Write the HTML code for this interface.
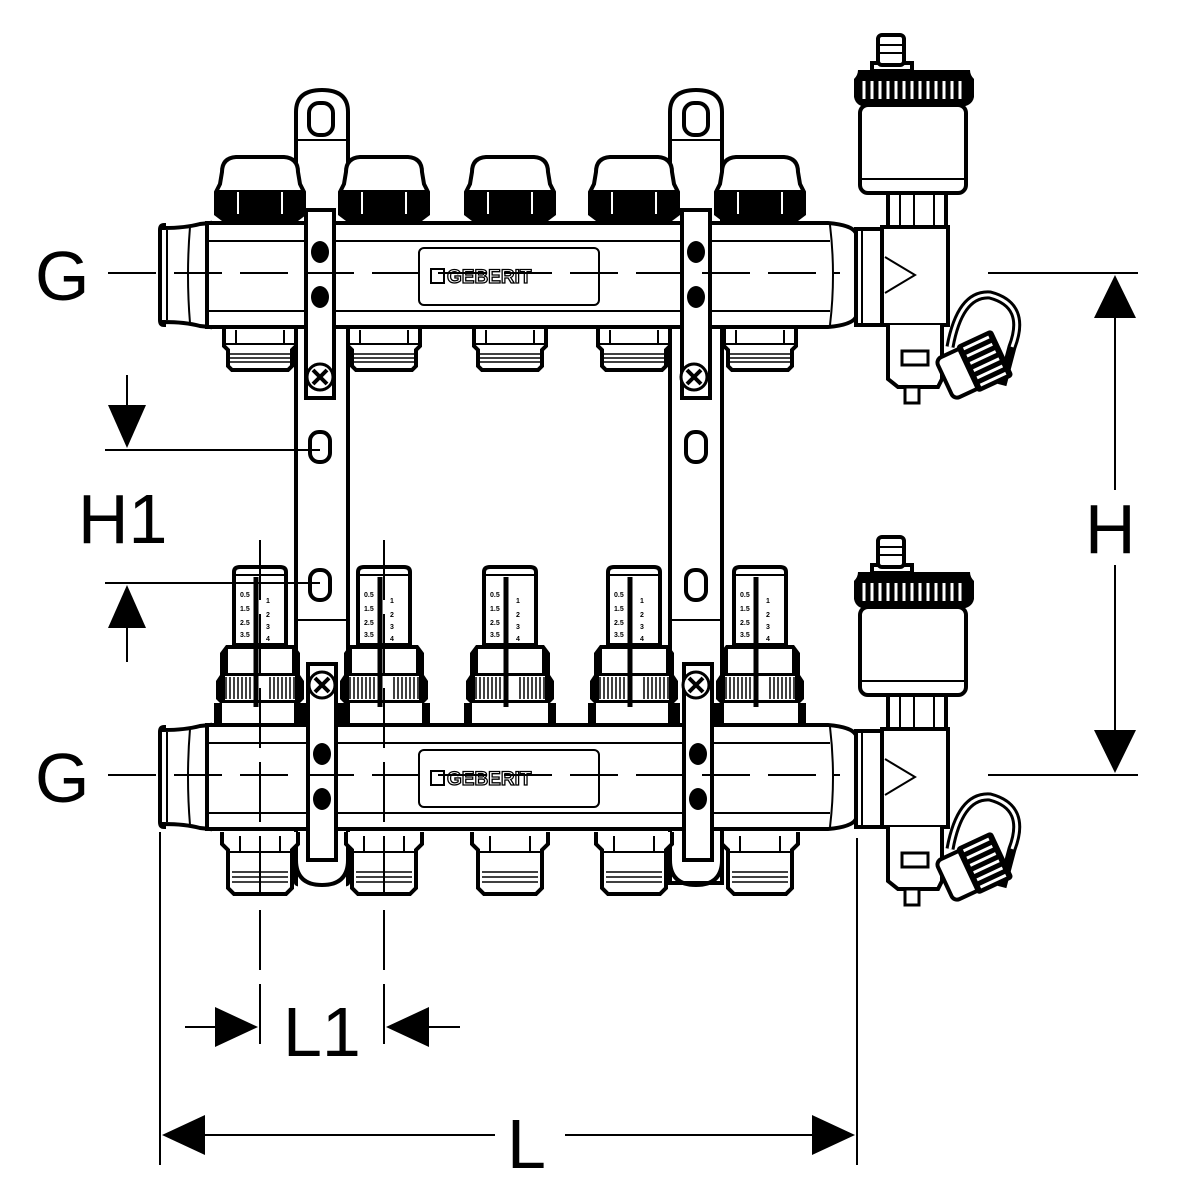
<!DOCTYPE html>
<html><head><meta charset="utf-8"><style>html,body{margin:0;padding:0;background:#fff}svg{display:block}</style></head>
<body>
<svg width="1200" height="1200" viewBox="0 0 1200 1200" xmlns="http://www.w3.org/2000/svg">
<defs>
  <g id="cap">
    <path d="M-38,-50 Q-38,-64 -24,-65 L24,-65 Q38,-64 38,-50 L40,-38 L44,-30 L44,-8 L36,-2 L-36,-2 L-44,-8 L-44,-30 L-40,-38 Z" fill="#fff" stroke="#000" stroke-width="4"/>
    <path d="M-44,-32 L44,-32 L44,-10 L36,-4 L-36,-4 L-44,-10 Z" fill="#000"/>
    <line x1="-22" y1="-30" x2="-22" y2="-8" stroke="#fff" stroke-width="2"/>
    <line x1="22" y1="-30" x2="22" y2="-8" stroke="#fff" stroke-width="2"/>
  </g>
  <g id="stub">
    <path d="M-36,2 L-36,20 L-32,24 L-32,40 L-28,44 L28,44 L32,40 L32,24 L36,20 L36,2" fill="#fff" stroke="#000" stroke-width="4"/>
    <line x1="-34" y1="18" x2="34" y2="18" stroke="#000" stroke-width="2"/>
    <line x1="-24" y1="4" x2="-24" y2="18" stroke="#000" stroke-width="2"/>
    <line x1="24" y1="4" x2="24" y2="18" stroke="#000" stroke-width="2"/>
    <line x1="-30" y1="28" x2="30" y2="28" stroke="#000" stroke-width="1.5"/>
    <line x1="-30" y1="32" x2="30" y2="32" stroke="#000" stroke-width="1.5"/>
    <line x1="-30" y1="36" x2="30" y2="36" stroke="#000" stroke-width="1.5"/>
  </g>
  <g id="stub2">
    <path d="M-38,2 L-38,14 L-32,20 L-32,58 L-26,64 L26,64 L32,58 L32,20 L38,14 L38,2" fill="#fff" stroke="#000" stroke-width="4"/>
    <line x1="-32" y1="22" x2="32" y2="22" stroke="#000" stroke-width="2"/>
    <line x1="-20" y1="6" x2="-20" y2="22" stroke="#000" stroke-width="2"/>
    <line x1="20" y1="6" x2="20" y2="22" stroke="#000" stroke-width="2"/>
    <line x1="-28" y1="42" x2="28" y2="42" stroke="#000" stroke-width="1.5"/>
    <line x1="-28" y1="47" x2="28" y2="47" stroke="#000" stroke-width="1.5"/>
    <line x1="-28" y1="52" x2="28" y2="52" stroke="#000" stroke-width="1.5"/>
  </g>
  <g id="meter">
    <path d="M-26,-155 Q-26,-160 -20,-160 L20,-160 Q26,-160 26,-155 L26,-82 L-26,-82 Z" fill="#fff" stroke="#000" stroke-width="4"/>
    <line x1="-24" y1="-152" x2="24" y2="-152" stroke="#000" stroke-width="2"/>
    <g font-family="Liberation Sans, sans-serif" font-size="7" font-weight="bold">
      <text x="-20" y="-130">0.5</text><text x="-20" y="-116">1.5</text><text x="-20" y="-102">2.5</text><text x="-20" y="-90">3.5</text>
      <text x="6" y="-124">1</text><text x="6" y="-110">2</text><text x="6" y="-98">3</text><text x="6" y="-86">4</text>
    </g>
    <path d="M-34,-82 L34,-82 L40,-74 L40,-52 L44,-46 L44,-28 L40,-24 L-40,-24 L-44,-28 L-44,-46 L-40,-52 L-40,-74 Z" fill="#000"/>
    <rect x="-32" y="-78" width="64" height="24" fill="#fff"/>
    <rect x="-36" y="-52" width="72" height="26" fill="#fff" stroke="#000" stroke-width="2"/>
    <path d="M-34,-50 v22 M-30,-50 v22 M-26,-50 v22 M-22,-50 v22 M-18,-50 v22 M-14,-50 v22 M-10,-50 v22 M10,-50 v22 M14,-50 v22 M18,-50 v22 M22,-50 v22 M26,-50 v22 M30,-50 v22 M34,-50 v22" stroke="#000" stroke-width="1.5"/>
    <path d="M-40,-24 L-40,0 M40,-24 L40,0 M-44,-24 L-44,0 L44,0 L44,-24" fill="none" stroke="#000" stroke-width="4"/>
    <line x1="-4" y1="-150" x2="-4" y2="-20" stroke="#000" stroke-width="5"/>
  </g>
  <g id="bar">
    <!-- left press end -->
    <path d="M160,-45 Q160,-50 164,-50 L164,-47 Q185,-47 200,-51 L210,-52 L210,52 L200,51 Q185,47 164,47 L164,50 Q160,50 160,45 Z" fill="#fff" stroke="#000" stroke-width="4"/>
    <line x1="167" y1="-45" x2="167" y2="45" stroke="#000" stroke-width="2"/>
    <path d="M190,-48 Q186,0 190,48" fill="none" stroke="#000" stroke-width="2"/>
    <!-- body -->
    <path d="M207,-52 L828,-52 Q852,-50 856,-42 L856,42 Q852,50 828,52 L207,52 Z" fill="#fff" stroke="#000" stroke-width="4"/>
    <line x1="207" y1="-34" x2="830" y2="-34" stroke="#000" stroke-width="2"/>
    <line x1="207" y1="36" x2="830" y2="36" stroke="#000" stroke-width="2"/>
    <path d="M830,-50 Q836,0 830,50" fill="none" stroke="#000" stroke-width="2"/>
    <rect x="419" y="-27" width="180" height="57" rx="5" fill="#fff" stroke="#000" stroke-width="2"/>
    <rect x="431" y="-6" width="13" height="14" fill="#fff" stroke="#000" stroke-width="2"/>
    <text x="447" y="8" font-family="Liberation Sans, sans-serif" font-weight="bold" font-size="19" fill="#fff" stroke="#000" stroke-width="1.3">GEBERIT</text>
    <!-- flange -->
    <rect x="856" y="-46" width="26" height="96" fill="#fff" stroke="#000" stroke-width="4"/>
    <line x1="862" y1="-44" x2="862" y2="48" stroke="#000" stroke-width="2"/>
    <!-- T body -->
    <rect x="882" y="-48" width="66" height="98" fill="#fff" stroke="#000" stroke-width="4"/>
    <path d="M885,-18 L915,0 L885,18" fill="none" stroke="#000" stroke-width="2"/>
    <!-- nut above -->
    <rect x="888" y="-82" width="58" height="34" fill="#fff" stroke="#000" stroke-width="4"/>
    <path d="M900,-80 v30 M914,-80 v30 M934,-80 v30" stroke="#000" stroke-width="2"/>
    <!-- drain below -->
    <path d="M888,50 L888,104 L898,112 L938,112 L942,104 L942,50" fill="#fff" stroke="#000" stroke-width="4"/>
    <rect x="902" y="76" width="26" height="14" fill="#fff" stroke="#000" stroke-width="3"/>
    <rect x="905" y="112" width="14" height="16" fill="#fff" stroke="#000" stroke-width="3"/>
    <!-- drain cap -->
    <path d="M950,72 Q960,18 990,20 Q1028,30 1012,72 L1002,110" fill="none" stroke="#000" stroke-width="9"/>
    <path d="M950,72 Q960,18 990,20 Q1028,30 1012,72" fill="none" stroke="#fff" stroke-width="3"/>
    <g transform="translate(972,92) rotate(-25)">
      <rect x="-30" y="-22" width="60" height="44" rx="6" fill="#fff" stroke="#000" stroke-width="4"/>
      <rect x="-6" y="-26" width="40" height="52" rx="4" fill="#000"/>
      <path d="M0,-20 h28 M0,-12 h28 M0,-4 h28 M0,4 h28 M0,12 h28 M0,20 h28" stroke="#fff" stroke-width="3"/>
    </g>
    <!-- air vent -->
    <rect x="860" y="-170" width="106" height="88" rx="8" fill="#fff" stroke="#000" stroke-width="4"/>
    <line x1="862" y1="-96" x2="964" y2="-96" stroke="#000" stroke-width="2"/>
    <path d="M858,-205 Q858,-200 854,-196 L854,-178 Q856,-168 868,-168 L958,-168 Q972,-168 974,-178 L974,-196 Q970,-200 970,-205 Z" fill="#000"/>
    <path d="M864,-194 v18 M872,-194 v18 M880,-194 v18 M888,-194 v18 M896,-194 v18 M904,-194 v18 M912,-194 v18 M920,-194 v18 M928,-194 v18 M936,-194 v18 M944,-194 v18 M952,-194 v18 M960,-194 v18" stroke="#fff" stroke-width="3"/>
    <rect x="872" y="-212" width="40" height="8" fill="#fff" stroke="#000" stroke-width="4"/>
    <rect x="878" y="-240" width="26" height="30" rx="4" fill="#fff" stroke="#000" stroke-width="4"/>
    <path d="M880,-230 h22 M880,-222 h22" stroke="#000" stroke-width="2"/>
  </g>
</defs>

<!-- brackets -->
<g fill="#fff" stroke="#000" stroke-width="4">
  <path d="M296,883 L296,112 Q296,90 322,90 Q348,90 348,112 L348,883 Q348,885 338,885 Q322,885 306,885 Q296,885 296,883" />
  <path d="M670,883 L670,112 Q670,90 696,90 Q722,90 722,112 L722,883 Z"/>
</g>
<rect x="298" y="880" width="48" height="8" fill="#fff"/>
<path d="M296,840 L296,860 Q296,885 322,885 Q348,885 348,860" fill="none" stroke="#000" stroke-width="4"/>
<path d="M670,840 L670,860 Q670,885 696,885 Q722,885 722,860" fill="none" stroke="#000" stroke-width="4"/>
<g stroke="#000" stroke-width="2">
  <line x1="298" y1="140" x2="346" y2="140"/><line x1="672" y1="140" x2="720" y2="140"/>
  <line x1="298" y1="620" x2="346" y2="620"/><line x1="672" y1="620" x2="720" y2="620"/>
</g>
<g fill="#fff" stroke="#000" stroke-width="4">
  <rect x="309" y="103" width="24" height="32" rx="10"/>
  <rect x="684" y="103" width="24" height="32" rx="10"/>
  <rect x="310" y="432" width="20" height="30" rx="9"/>
  <rect x="686" y="432" width="20" height="30" rx="9"/>
  <rect x="310" y="570" width="20" height="30" rx="9"/>
  <rect x="686" y="570" width="20" height="30" rx="9"/>
</g>

<!-- TOP manifold -->
<use href="#cap" x="260" y="222"/><use href="#cap" x="384" y="222"/><use href="#cap" x="510" y="222"/><use href="#cap" x="634" y="222"/><use href="#cap" x="760" y="222"/>
<use href="#stub" x="260" y="326"/><use href="#stub" x="384" y="326"/><use href="#stub" x="510" y="326"/><use href="#stub" x="634" y="326"/><use href="#stub" x="760" y="326"/>
<use href="#bar" y="275"/>
<!-- BOTTOM manifold -->
<use href="#meter" x="260" y="727"/><use href="#meter" x="384" y="727"/><use href="#meter" x="510" y="727"/><use href="#meter" x="634" y="727"/><use href="#meter" x="760" y="727"/>
<use href="#stub2" x="260" y="830"/><use href="#stub2" x="384" y="830"/><use href="#stub2" x="510" y="830"/><use href="#stub2" x="634" y="830"/><use href="#stub2" x="760" y="830"/>
<use href="#bar" y="777"/>

<!-- inner bracket straps over bars -->
<g fill="#fff" stroke="#000" stroke-width="4">
  <path d="M306,210 L334,210 L334,398 L306,398 Z"/>
  <path d="M682,210 L710,210 L710,398 L682,398 Z"/>
  <path d="M308,664 L336,664 L336,860 L308,860 Z"/>
  <path d="M684,664 L712,664 L712,860 L684,860 Z"/>
</g>
<g fill="#000">
  <ellipse cx="320" cy="252" rx="9" ry="11"/><ellipse cx="320" cy="297" rx="9" ry="11"/>
  <ellipse cx="696" cy="252" rx="9" ry="11"/><ellipse cx="696" cy="297" rx="9" ry="11"/>
  <ellipse cx="322" cy="754" rx="9" ry="11"/><ellipse cx="322" cy="799" rx="9" ry="11"/>
  <ellipse cx="698" cy="754" rx="9" ry="11"/><ellipse cx="698" cy="799" rx="9" ry="11"/>
</g>
<g fill="#fff" stroke="#000" stroke-width="3">
  <circle cx="320" cy="377" r="13"/><circle cx="694" cy="377" r="13"/>
  <circle cx="322" cy="685" r="13"/><circle cx="696" cy="685" r="13"/>
</g>
<g stroke="#000" stroke-width="4">
  <path d="M313,370 l14,14 M327,370 l-14,14 M687,370 l14,14 M701,370 l-14,14 M315,678 l14,14 M329,678 l-14,14 M689,678 l14,14 M703,678 l-14,14"/>
</g>

<!-- center lines -->
<g stroke="#000" stroke-width="2" fill="none">
  <line x1="108" y1="273" x2="840" y2="273" stroke-dasharray="48,18"/>
  <line x1="108" y1="775" x2="840" y2="775" stroke-dasharray="48,18"/>
  <line x1="988" y1="273" x2="1138" y2="273"/>
  <line x1="988" y1="775" x2="1138" y2="775"/>
  <line x1="260" y1="540" x2="260" y2="1055" stroke-dasharray="60,14"/>
  <line x1="384" y1="540" x2="384" y2="1055" stroke-dasharray="60,14"/>
  <line x1="160" y1="832" x2="160" y2="1165"/>
  <line x1="857" y1="838" x2="857" y2="1165"/>
  <!-- H1 -->
  <line x1="105" y1="450" x2="320" y2="450"/>
  <line x1="105" y1="583" x2="320" y2="583"/>
  <line x1="127" y1="375" x2="127" y2="420"/>
  <line x1="127" y1="620" x2="127" y2="662"/>
  <!-- H -->
  <line x1="1115" y1="310" x2="1115" y2="490"/>
  <line x1="1115" y1="565" x2="1115" y2="740"/>
  <!-- L -->
  <line x1="195" y1="1135" x2="495" y2="1135"/>
  <line x1="565" y1="1135" x2="822" y2="1135"/>
  <!-- L1 -->
  <line x1="185" y1="1027" x2="220" y2="1027"/>
  <line x1="424" y1="1027" x2="460" y2="1027"/>
</g>
<g fill="#000">
  <path d="M108,405 L146,405 L127,448 Z"/>
  <path d="M108,628 L146,628 L127,585 Z"/>
  <path d="M1094,318 L1136,318 L1115,275 Z"/>
  <path d="M1094,730 L1136,730 L1115,773 Z"/>
  <path d="M162,1135 L205,1115 L205,1155 Z"/>
  <path d="M855,1135 L812,1115 L812,1155 Z"/>
  <path d="M258,1027 L215,1007 L215,1047 Z"/>
  <path d="M386,1027 L429,1007 L429,1047 Z"/>
</g>
<g font-family="Liberation Sans, sans-serif" font-size="70" fill="#000">
  <text x="35" y="300">G</text>
  <text x="35" y="802">G</text>
  <text x="78" y="543">H1</text>
  <text x="1085" y="553">H</text>
  <text x="283" y="1056">L1</text>
  <text x="507" y="1168">L</text>
</g>
</svg>
</body></html>
